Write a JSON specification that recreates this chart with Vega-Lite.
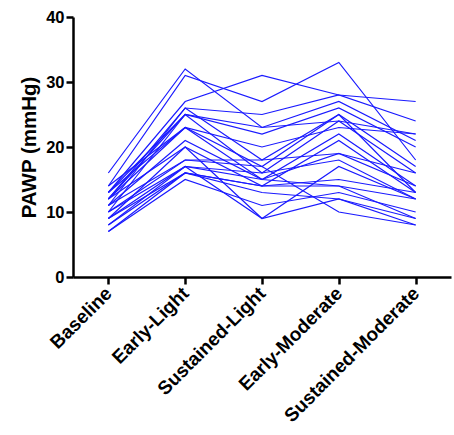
{
  "$schema": "https://vega.github.io/schema/vega-lite/v6.json",
  "autosize": "none",
  "padding": {"left": 73, "top": 17, "right": 3, "bottom": 158},
  "width": 378,
  "height": 260,
  "config": {
    "view": {"stroke": null},
    "font": "Liberation Sans",
    "axis": {"grid": false, "domainColor": "black", "domainWidth": 2.5, "tickColor": "black", "tickWidth": 2.5, "tickSize": 7, "labelColor": "black", "labelFontWeight": "bold", "titleColor": "black", "titleFontWeight": "bold"}
  },
  "data": {"values": [
    {"id": 1, "cond": "Baseline", "v": 16}, {"id": 1, "cond": "Early-Light", "v": 32}, {"id": 1, "cond": "Sustained-Light", "v": 23}, {"id": 1, "cond": "Early-Moderate", "v": 24}, {"id": 1, "cond": "Sustained-Moderate", "v": 22},
    {"id": 2, "cond": "Baseline", "v": 14}, {"id": 2, "cond": "Early-Light", "v": 31}, {"id": 2, "cond": "Sustained-Light", "v": 27}, {"id": 2, "cond": "Early-Moderate", "v": 33}, {"id": 2, "cond": "Sustained-Moderate", "v": 18},
    {"id": 3, "cond": "Baseline", "v": 13}, {"id": 3, "cond": "Early-Light", "v": 27}, {"id": 3, "cond": "Sustained-Light", "v": 31}, {"id": 3, "cond": "Early-Moderate", "v": 28}, {"id": 3, "cond": "Sustained-Moderate", "v": 27},
    {"id": 4, "cond": "Baseline", "v": 12}, {"id": 4, "cond": "Early-Light", "v": 26}, {"id": 4, "cond": "Sustained-Light", "v": 25}, {"id": 4, "cond": "Early-Moderate", "v": 28}, {"id": 4, "cond": "Sustained-Moderate", "v": 24},
    {"id": 5, "cond": "Baseline", "v": 13}, {"id": 5, "cond": "Early-Light", "v": 25}, {"id": 5, "cond": "Sustained-Light", "v": 23}, {"id": 5, "cond": "Early-Moderate", "v": 27}, {"id": 5, "cond": "Sustained-Moderate", "v": 21},
    {"id": 6, "cond": "Baseline", "v": 12}, {"id": 6, "cond": "Early-Light", "v": 25}, {"id": 6, "cond": "Sustained-Light", "v": 22}, {"id": 6, "cond": "Early-Moderate", "v": 26}, {"id": 6, "cond": "Sustained-Moderate", "v": 20},
    {"id": 7, "cond": "Baseline", "v": 11}, {"id": 7, "cond": "Early-Light", "v": 26}, {"id": 7, "cond": "Sustained-Light", "v": 18}, {"id": 7, "cond": "Early-Moderate", "v": 25}, {"id": 7, "cond": "Sustained-Moderate", "v": 17},
    {"id": 8, "cond": "Baseline", "v": 10}, {"id": 8, "cond": "Early-Light", "v": 25}, {"id": 8, "cond": "Sustained-Light", "v": 16}, {"id": 8, "cond": "Early-Moderate", "v": 24}, {"id": 8, "cond": "Sustained-Moderate", "v": 16},
    {"id": 9, "cond": "Baseline", "v": 14}, {"id": 9, "cond": "Early-Light", "v": 23}, {"id": 9, "cond": "Sustained-Light", "v": 20}, {"id": 9, "cond": "Early-Moderate", "v": 23}, {"id": 9, "cond": "Sustained-Moderate", "v": 22},
    {"id": 10, "cond": "Baseline", "v": 12}, {"id": 10, "cond": "Early-Light", "v": 23}, {"id": 10, "cond": "Sustained-Light", "v": 17}, {"id": 10, "cond": "Early-Moderate", "v": 25}, {"id": 10, "cond": "Sustained-Moderate", "v": 13},
    {"id": 11, "cond": "Baseline", "v": 11}, {"id": 11, "cond": "Early-Light", "v": 21}, {"id": 11, "cond": "Sustained-Light", "v": 15}, {"id": 11, "cond": "Early-Moderate", "v": 22}, {"id": 11, "cond": "Sustained-Moderate", "v": 14},
    {"id": 12, "cond": "Baseline", "v": 9}, {"id": 12, "cond": "Early-Light", "v": 20}, {"id": 12, "cond": "Sustained-Light", "v": 14}, {"id": 12, "cond": "Early-Moderate", "v": 21}, {"id": 12, "cond": "Sustained-Moderate", "v": 13},
    {"id": 13, "cond": "Baseline", "v": 10}, {"id": 13, "cond": "Early-Light", "v": 18}, {"id": 13, "cond": "Sustained-Light", "v": 18}, {"id": 13, "cond": "Early-Moderate", "v": 19}, {"id": 13, "cond": "Sustained-Moderate", "v": 16},
    {"id": 14, "cond": "Baseline", "v": 8}, {"id": 14, "cond": "Early-Light", "v": 17}, {"id": 14, "cond": "Sustained-Light", "v": 16}, {"id": 14, "cond": "Early-Moderate", "v": 18}, {"id": 14, "cond": "Sustained-Moderate", "v": 12},
    {"id": 15, "cond": "Baseline", "v": 9}, {"id": 15, "cond": "Early-Light", "v": 17}, {"id": 15, "cond": "Sustained-Light", "v": 15}, {"id": 15, "cond": "Early-Moderate", "v": 19}, {"id": 15, "cond": "Sustained-Moderate", "v": 14},
    {"id": 16, "cond": "Baseline", "v": 7}, {"id": 16, "cond": "Early-Light", "v": 16}, {"id": 16, "cond": "Sustained-Light", "v": 14}, {"id": 16, "cond": "Early-Moderate", "v": 15}, {"id": 16, "cond": "Sustained-Moderate", "v": 13},
    {"id": 17, "cond": "Baseline", "v": 10}, {"id": 17, "cond": "Early-Light", "v": 17}, {"id": 17, "cond": "Sustained-Light", "v": 9}, {"id": 17, "cond": "Early-Moderate", "v": 17}, {"id": 17, "cond": "Sustained-Moderate", "v": 12},
    {"id": 18, "cond": "Baseline", "v": 8}, {"id": 18, "cond": "Early-Light", "v": 16}, {"id": 18, "cond": "Sustained-Light", "v": 13}, {"id": 18, "cond": "Early-Moderate", "v": 12}, {"id": 18, "cond": "Sustained-Moderate", "v": 9},
    {"id": 19, "cond": "Baseline", "v": 7}, {"id": 19, "cond": "Early-Light", "v": 15}, {"id": 19, "cond": "Sustained-Light", "v": 11}, {"id": 19, "cond": "Early-Moderate", "v": 13}, {"id": 19, "cond": "Sustained-Moderate", "v": 10},
    {"id": 20, "cond": "Baseline", "v": 9}, {"id": 20, "cond": "Early-Light", "v": 16}, {"id": 20, "cond": "Sustained-Light", "v": 14}, {"id": 20, "cond": "Early-Moderate", "v": 14}, {"id": 20, "cond": "Sustained-Moderate", "v": 12},
    {"id": 21, "cond": "Baseline", "v": 11}, {"id": 21, "cond": "Early-Light", "v": 18}, {"id": 21, "cond": "Sustained-Light", "v": 17}, {"id": 21, "cond": "Early-Moderate", "v": 10}, {"id": 21, "cond": "Sustained-Moderate", "v": 8},
    {"id": 22, "cond": "Baseline", "v": 13}, {"id": 22, "cond": "Early-Light", "v": 23}, {"id": 22, "cond": "Sustained-Light", "v": 15}, {"id": 22, "cond": "Early-Moderate", "v": 14}, {"id": 22, "cond": "Sustained-Moderate", "v": 9},
    {"id": 23, "cond": "Baseline", "v": 12}, {"id": 23, "cond": "Early-Light", "v": 20}, {"id": 23, "cond": "Sustained-Light", "v": 9}, {"id": 23, "cond": "Early-Moderate", "v": 12}, {"id": 23, "cond": "Sustained-Moderate", "v": 8}
  ]},
  "mark": {"type": "line", "color": "#1a1aff", "strokeWidth": 1.2},
  "encoding": {
    "x": {"field": "cond", "type": "ordinal", "sort": ["Baseline", "Early-Light", "Sustained-Light", "Early-Moderate", "Sustained-Moderate"],
      "scale": {"type": "point", "padding": 0.46},
      "axis": {"title": null, "labelAngle": -45, "labelAlign": "right", "labelBaseline": "middle", "labelFontSize": 19, "labelPadding": 6, "labelLimit": 400}},
    "y": {"field": "v", "type": "quantitative", "scale": {"domain": [0, 40], "nice": false},
      "axis": {"title": "PAWP (mmHg)", "titleFontSize": 20.5, "titlePadding": 6, "values": [0, 10, 20, 30, 40], "labelFontSize": 16.5, "labelPadding": 2}},
    "detail": {"field": "id", "type": "nominal"}
  }
}
